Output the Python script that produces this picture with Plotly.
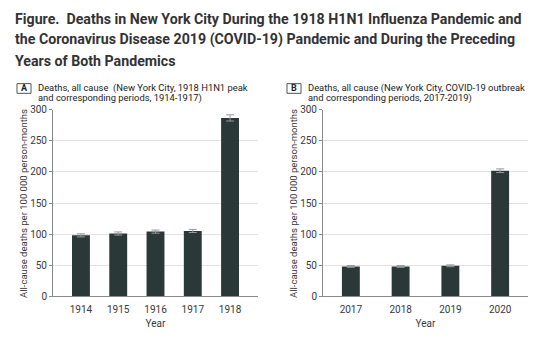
import plotly.graph_objects as go

years_a = ["1914", "1915", "1916", "1917", "1918"]
deaths_a = [98, 101, 104, 105, 287]
err_a = [2.5, 2.5, 2.5, 2.5, 5]

years_b = ["2017", "2018", "2019", "2020"]
deaths_b = [48, 48, 49, 202]
err_b = [1.5, 1.5, 1.5, 3]

title_lines = [
    "Figure.  Deaths in New York City During the 1918 H1N1 Influenza Pandemic and",
    "the Coronavirus Disease 2019 (COVID-19) Pandemic and During the Preceding",
    "Years of Both Pandemics",
]
sub_a = ["Deaths, all cause  (New York City, 1918 H1N1 peak", "and corresponding periods, 1914-1917)"]
sub_b = ["Deaths, all cause (New York City, COVID-19 outbreak", "and corresponding periods, 2017-2019)"]
y_title = "All-cause deaths per 100 000 person-months"

W, H = 540, 342
BAR = "#2a3837"
FONT = "Roboto"
TXT = "#3a3a3a"

fig = go.Figure()
fig.add_trace(go.Bar(x=years_a, y=deaths_a, width=0.48, marker=dict(color=BAR, line=dict(width=0)),
                     error_y=dict(type="data", array=err_a, color="#9a9a9a", thickness=1, width=4),
                     xaxis="x", yaxis="y", showlegend=False))
fig.add_trace(go.Bar(x=years_b, y=deaths_b, width=0.36, marker=dict(color=BAR, line=dict(width=0)),
                     error_y=dict(type="data", array=err_b, color="#9a9a9a", thickness=1, width=4),
                     xaxis="x2", yaxis="y2", showlegend=False))

ydom = [1 - 300 / H, 1 - 108 / H]
common_y = dict(range=[0, 300], dtick=50, showline=True, linecolor="#8a8a8a", linewidth=1,
                ticks="outside", ticklen=3, tickcolor="#8a8a8a", showgrid=True, gridcolor="#e2e2e2",
                zeroline=False, tickfont=dict(family=FONT, size=10, color=TXT))
common_x = dict(showline=True, linecolor="#8a8a8a", linewidth=1, ticks="outside", ticklen=4,
                tickcolor="rgba(0,0,0,0)", showgrid=False,
                tickfont=dict(family=FONT, size=10, color=TXT),
                title=dict(text="Year", font=dict(family=FONT, size=10, color=TXT), standoff=5))

fig.update_layout(
    width=W, height=H, margin=dict(l=0, r=0, t=0, b=0),
    paper_bgcolor="white", plot_bgcolor="white",
    xaxis=dict(domain=[53 / W, 258 / W], range=[-0.75, 4.75], anchor="y", **common_x),
    yaxis=dict(domain=ydom, anchor="x", **common_y),
    xaxis2=dict(domain=[323 / W, 528 / W], range=[-0.56, 3.56], anchor="y2", **common_x),
    yaxis2=dict(domain=ydom, anchor="x2", **common_y),
)

ann = []
for i, (line, yc) in enumerate(zip(title_lines, [14, 36, 58])):
    ann.append(dict(text=line, x=13 / W, y=1 - yc / H, xref="paper", yref="paper",
                    xanchor="left", yanchor="middle", showarrow=False,
                    font=dict(family=FONT, size=14.2, color="#333333", weight="bold")))
for lines, x0, lab, bx, ytx in [(sub_a, 36, "A", 17, 23), (sub_b, 306, "B", 287, 293)]:
    for line, yc in zip(lines, [85, 96]):
        ann.append(dict(text=line, x=x0 / W, y=1 - yc / H, xref="paper", yref="paper",
                        xanchor="left", yanchor="middle", showarrow=False,
                        font=dict(family=FONT, size=9.4, color="#222222")))
    ann.append(dict(text=lab, x=(bx + 7) / W, y=1 - 86 / H, xref="paper", yref="paper",
                    xanchor="center", yanchor="middle", showarrow=False,
                    font=dict(family=FONT, size=9, color="#222222", weight="bold")))
    ann.append(dict(text=y_title, x=ytx / W, y=1 - 205 / H, xref="paper", yref="paper",
                    xanchor="center", yanchor="middle", textangle=-90, showarrow=False,
                    font=dict(family=FONT, size=9.5, color=TXT)))
fig.update_layout(annotations=ann)

shapes = []
for bx in [17, 287]:
    shapes.append(dict(type="rect", xref="paper", yref="paper", x0=bx / W, x1=(bx + 14) / W,
                       y0=1 - 91 / H, y1=1 - 81 / H, line=dict(color="#555555", width=1)))
fig.update_layout(shapes=shapes)

fig.write_html("out.html")
